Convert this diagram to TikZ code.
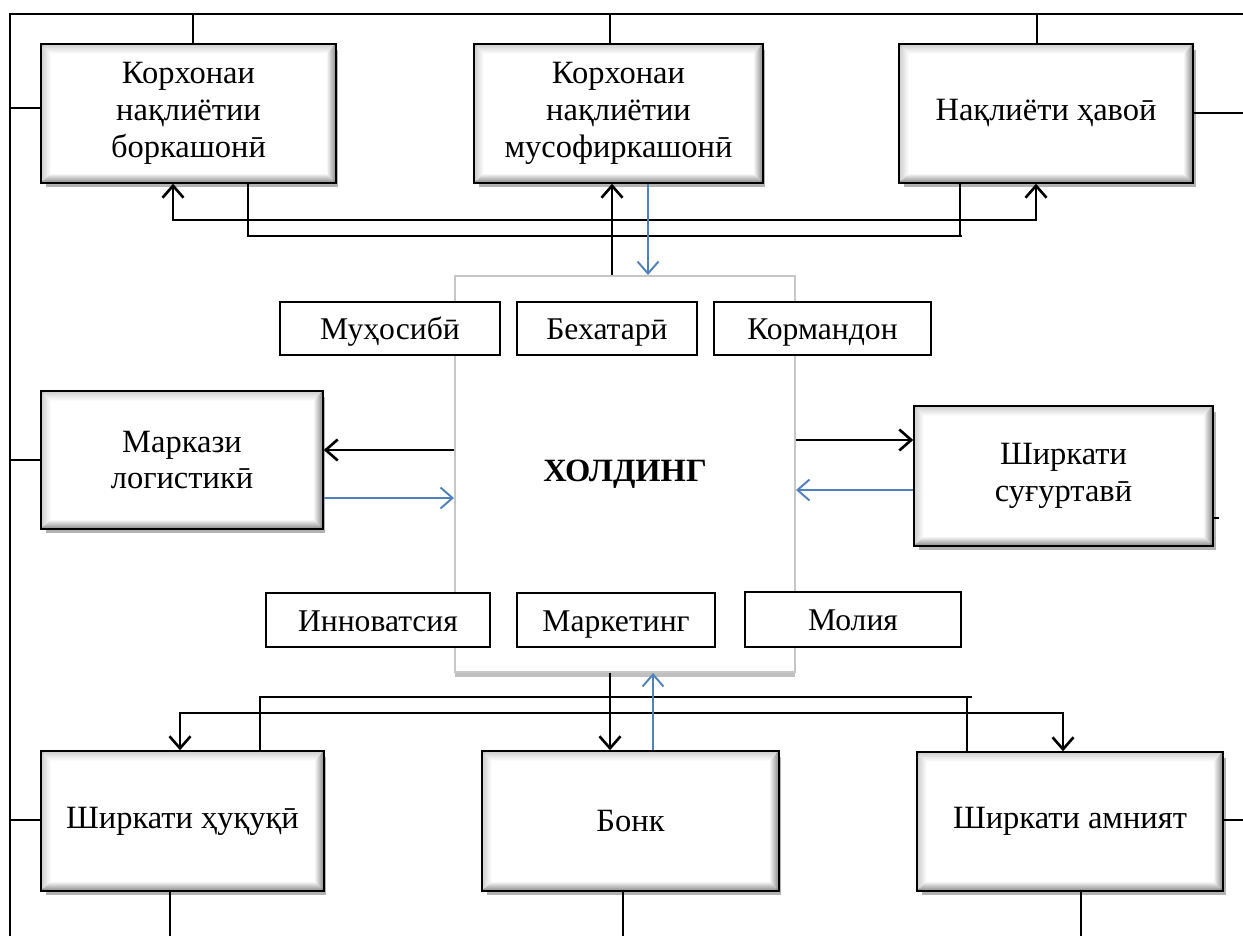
\documentclass[tikz,border=0pt]{standalone}
\usepackage{fontspec}
\setmainfont{Liberation Serif}
\usetikzlibrary{arrows.meta,shadows,calc}
\definecolor{ablue}{RGB}{79,129,189}
\tikzset{
  bevbox/.style={draw=black, line width=2pt, fill=white, inner sep=2pt, align=center,
    font=\fontsize{18.5}{21}\selectfont,
    drop shadow={shadow xshift=2pt, shadow yshift=-3pt, fill=black, opacity=0.3}},
  smallbox/.style={draw=black, line width=1.4pt, fill=white, inner sep=1pt,
    text height=14pt, text depth=1pt,
    font=\fontsize{18}{21}\selectfont},
  hold/.style={draw=gray!45, line width=1.2pt, fill=white,
    drop shadow={shadow xshift=0pt, shadow yshift=-3pt, fill=black, opacity=0.25}},
  conn/.style={line width=1.5pt, black},
  arr/.style={conn, -{Straight Barb[length=0.24cm,width=0.42cm]}},
  dblarr/.style={conn, {Straight Barb[length=0.24cm,width=0.42cm]}-{Straight Barb[length=0.24cm,width=0.42cm]}},
  barr/.style={line width=1.1pt, ablue, -{Straight Barb[length=0.24cm,width=0.42cm]}},
}
\newcommand\bevel[1]{%
  \coordinate (bnw) at ([shift={(1pt,-1pt)}]#1.north west);
  \coordinate (bse) at ([shift={(-1pt,1pt)}]#1.south east);
  \coordinate (bne) at (bse |- bnw);
  \coordinate (bsw) at (bnw |- bse);
  \shade[top color=gray!35,bottom color=white] (bnw) -- (bne) -- ([shift={(-5pt,-5pt)}]bne) -- ([shift={(5pt,-5pt)}]bnw) -- cycle;
  \shade[left color=gray!35,right color=white] (bnw) -- ([shift={(5pt,-5pt)}]bnw) -- ([shift={(5pt,5pt)}]bsw) -- (bsw) -- cycle;
  \shade[left color=white,right color=gray!85] (bne) -- (bse) -- ([shift={(-5pt,5pt)}]bse) -- ([shift={(-5pt,-5pt)}]bne) -- cycle;
  \shade[top color=white,bottom color=gray!85] (bsw) -- (bse) -- ([shift={(-5pt,5pt)}]bse) -- ([shift={(5pt,5pt)}]bsw) -- cycle;
}
\begin{document}
\begin{tikzpicture}[x=0.02cm,y=-0.02cm]
\useasboundingbox (0,0) rectangle (1243,936);
\fill[white] (0,0) rectangle (1243,936);

% big boxes
\node[bevbox, minimum width=5.86cm, minimum height=2.74cm] (b1) at (188.5,113.5) {Корхонаи\\нақлиётии\\боркашонӣ};
\node[bevbox, minimum width=5.74cm, minimum height=2.74cm] (b2) at (618.5,113.5) {Корхонаи\\нақлиётии\\мусофиркашонӣ};
\node[bevbox, minimum width=5.84cm, minimum height=2.74cm] (b3) at (1046,113.5) {Нақлиёти ҳавоӣ};
\node[bevbox, minimum width=5.6cm, minimum height=2.72cm] (m1) at (182,460) {Маркази\\логистикӣ};
\node[bevbox, minimum width=5.94cm, minimum height=2.76cm] (m2) at (1063.5,476) {Ширкати\\суғуртавӣ};
\node[bevbox, minimum width=5.62cm, minimum height=2.76cm] (l1) at (182.5,821) {Ширкати ҳуқуқӣ};
\node[bevbox, minimum width=5.9cm, minimum height=2.76cm] (l2) at (630.5,821) {Бонк};
\node[bevbox, minimum width=6.08cm, minimum height=2.74cm] (l3) at (1070,821.5) {Ширкати амният};
\foreach \n in {b1,b2,b3,m1,m2,l1,l2,l3}{\bevel{\n}}

% holding
\node[hold, minimum width=6.8cm, minimum height=7.92cm, font=\fontsize{18.5}{22}\selectfont\bfseries] (hold) at (625,474) {ХОЛДИНГ};

% small boxes
\node[smallbox, minimum width=4.4cm, minimum height=1.06cm] (s1) at (390,328.5) {Муҳосибӣ};
\node[smallbox, minimum width=3.6cm, minimum height=1.06cm] (s2) at (607,328.5) {Бехатарӣ};
\node[smallbox, minimum width=4.34cm, minimum height=1.06cm] (s3) at (822.5,328.5) {Кормандон};
\node[smallbox, minimum width=4.48cm, minimum height=1.08cm] (s4) at (378,620) {Инноватсия};
\node[smallbox, minimum width=3.96cm, minimum height=1.08cm] (s5) at (616,620) {Маркетинг};
\node[smallbox, minimum width=4.32cm, minimum height=1.1cm] (s6) at (853,619.5) {Молия};

% frame
\coordinate (ftl) at (10,14);
\coordinate (ftr) at (1243,14);
\coordinate (fbl) at (10,936);
\coordinate (fb) at (0,936);
\draw[conn] (ftr) -- (ftl) -- (fbl);
\draw[conn] (b1.north -| 193,0) -- (ftl -| 193,0);
\draw[conn] (b2.north -| 610,0) -- (ftl -| 610,0);
\draw[conn] (b3.north -| 1037,0) -- (ftl -| 1037,0);
\draw[conn] (b1.west |- 0,108) -- (ftl |- 0,108);
\draw[conn] (b3.east |- 0,113) -- (ftr |- 0,113);
\draw[conn] (m1.west) -- (ftl |- m1.west);
\draw[conn] (l1.west |- 0,820) -- (ftl |- 0,820);
\draw[conn] (l3.east |- 0,820) -- (ftr |- 0,820);
\draw[conn] (l1.south -| 170,0) -- (fb -| 170,0);
\draw[conn] (l2.south -| 623,0) -- (fb -| 623,0);
\draw[conn] (l3.south -| 1081,0) -- (fb -| 1081,0);
\coordinate (mstub) at (1219,518);
\draw[conn] (m2.east |- mstub) -- (mstub);

% top distribution
\draw[dblarr] (b1.south -| 173,0) -- (173,220) -- (1036,220) -- (b3.south -| 1036,0);
\draw[conn] (b1.south -| 248,0) |- (962,236);
\draw[conn] (b3.south -| 960,0) -- (960,236);
\draw[arr] (hold.north -| 612,0) -- (b2.south -| 612,0);
\draw[barr] (b2.south -| 648,0) -- (hold.north -| 648,0);

% middle
\draw[arr] (hold.west |- 0,450) -- (m1.east |- 0,450);
\draw[barr] (m1.east |- 0,498) -- (hold.west |- 0,498);
\draw[arr] (hold.east |- 0,440) -- (m2.west |- 0,440);
\draw[barr] (m2.west |- 0,490) -- (hold.east |- 0,490);

% bottom distribution
\draw[dblarr] (l1.north -| 180,0) -- (180,713) -- (1063,713) -- (l3.north -| 1063,0);
\draw[conn] (l1.north -| 260,0) |- (972,697);
\draw[conn] (l3.north -| 967,0) -- (967,697);
\draw[arr] (hold.south -| 610,0) -- (l2.north -| 610,0);
\draw[barr] (l2.north -| 653,0) -- (hold.south -| 653,0);
\end{tikzpicture}
\end{document}
